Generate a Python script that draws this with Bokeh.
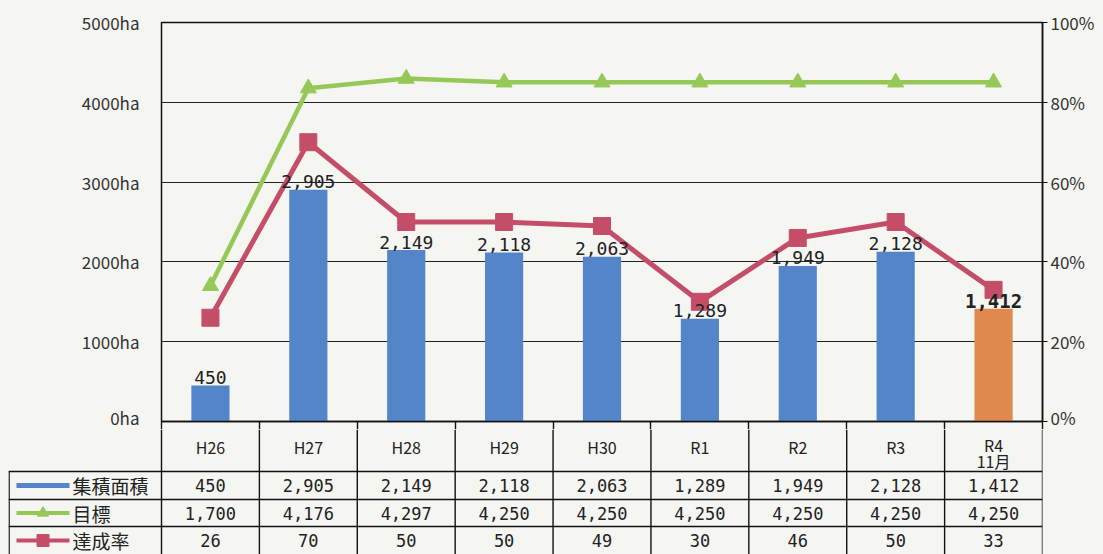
from bokeh.plotting import figure
from bokeh.models import (Range1d, LinearAxis, FixedTicker, PrintfTickFormatter,
                          ColumnDataSource, CustomJSTickFormatter)
from bokeh.core.properties import value
from bokeh.embed import file_html
from bokeh.resources import INLINE
import numpy as np

# ---- data ----
categories = ["H26", "H27", "H28", "H29", "H30", "R1", "R2", "R3", "R4\n11月"]
area = [450, 2905, 2149, 2118, 2063, 1289, 1949, 2128, 1412]      # 集積面積 (ha)
target = [1700, 4176, 4297, 4250, 4250, 4250, 4250, 4250, 4250]   # 目標 (ha)
rate = [26, 70, 50, 50, 49, 30, 46, 50, 33]                       # 達成率 (%)
series_names = ["集積面積", "目標", "達成率"]
left_ticks = [0, 1000, 2000, 3000, 4000, 5000]
right_ticks = [0, 20, 40, 60, 80, 100]

# ---- style ----
BG = "#f5f5f2"
BLUE = "#5585c9"
ORANGE = "#e0894f"
GREEN = "#96c858"
RED = "#c44e68"
INK = "#222222"
LINE = "#111111"
JP = value("Noto Sans CJK JP")
MONO = value("DejaVu Sans Mono")

n = len(categories)
xs = np.arange(n) + 0.5
bar_colors = [BLUE] * (n - 1) + [ORANGE]

W = 1103
TOP_H = 429
p = figure(width=W, height=TOP_H, x_range=Range1d(0, n), y_range=Range1d(0, 5000),
           output_backend="svg", toolbar_location=None,
           min_border_left=161, min_border_right=61, min_border_top=22, min_border_bottom=TOP_H - 421,
           background_fill_color=BG, border_fill_color=BG)
p.extra_y_ranges = {"pct": Range1d(0, 100)}
p.xgrid.visible = False
p.outline_line_color = LINE
p.outline_line_width = 1.5
p.ygrid.grid_line_color = "#222222"
p.ygrid.grid_line_width = 1.2

# category boundaries continue down into the table as x-axis ticks
p.xaxis.ticker = FixedTicker(ticks=list(range(n + 1)))
p.xaxis.formatter = CustomJSTickFormatter(code="return ''")
p.xaxis.axis_line_color = LINE
p.xaxis.axis_line_width = 1.5
p.xaxis.major_tick_line_color = LINE
p.xaxis.major_tick_line_width = 1.4
p.xaxis.major_tick_in = 0
p.xaxis.major_tick_out = TOP_H - 421
p.xaxis.minor_tick_line_color = None
p.xaxis.major_label_standoff = 0

p.yaxis.ticker = FixedTicker(ticks=left_ticks)
p.yaxis.formatter = PrintfTickFormatter(format="%dha")
p.yaxis.axis_line_color = None
p.yaxis.major_tick_line_color = None
p.yaxis.minor_tick_line_color = None
p.yaxis.major_label_standoff = 16
p.yaxis.major_label_text_font = "Noto Sans CJK JP"
p.yaxis.major_label_text_font_size = "17px"
p.yaxis.major_label_text_color = "#333333"

ra = LinearAxis(y_range_name="pct", ticker=FixedTicker(ticks=right_ticks),
                formatter=PrintfTickFormatter(format="%d%%"))
ra.axis_line_color = LINE
ra.axis_line_width = 1.5
ra.major_tick_line_color = LINE
ra.major_tick_out = 5
ra.major_tick_in = 0
ra.minor_tick_line_color = None
ra.major_label_standoff = 3
ra.major_label_text_font = "Noto Sans CJK JP"
ra.major_label_text_font_size = "17px"
ra.major_label_text_color = "#333333"
p.add_layout(ra, "right")

src = ColumnDataSource(dict(x=xs, area=area, target=target, rate=rate, color=bar_colors))
p.vbar(x="x", top="area", width=0.39, fill_color="color", line_color=None, source=src)
p.line("x", "target", line_color=GREEN, line_width=4.5, source=src)
p.scatter("x", "target", marker="triangle", size=16, fill_color=GREEN, line_color=GREEN, source=src)
p.line("x", "rate", line_color=RED, line_width=5, y_range_name="pct", source=src)
p.scatter("x", "rate", marker="square", size=17, fill_color=RED, line_color=RED,
          y_range_name="pct", source=src)

normal = ColumnDataSource(dict(x=xs[:-1], y=area[:-1], t=[f"{v:,}" for v in area[:-1]]))
bold = ColumnDataSource(dict(x=xs[-1:], y=area[-1:], t=[f"{v:,}" for v in area[-1:]]))
p.text("x", "y", text="t", source=normal, text_align="center", text_baseline="middle",
       y_offset=-8, text_font=MONO, text_font_size="18px", text_color=INK)
p.text("x", "y", text="t", source=bold, text_align="center", text_baseline="middle",
       y_offset=-8, text_font=MONO, text_font_size="19px", text_font_style="bold",
       text_color=INK)

# ---- data table below ----
colw = 881 / n
legL = -153 / colw
TH = 554 - TOP_H
rows = [0, 471 - TOP_H, 499 - TOP_H, 526 - TOP_H, TH]  # row boundaries (px from top of table)

t = figure(width=W, height=TH, x_range=Range1d(legL, n), y_range=Range1d(TH, 0),
           output_backend="svg", toolbar_location=None,
           min_border_left=8, min_border_right=61, min_border_top=0, min_border_bottom=0,
           background_fill_color=BG, border_fill_color=BG)
t.axis.visible = False
t.grid.visible = False
t.outline_line_color = None

vx = list(range(n + 1))
t.segment(x0=vx, y0=[0] * len(vx), x1=vx, y1=[TH] * len(vx), line_color=LINE, line_width=1.4)
t.segment(x0=[legL + 0.006], y0=[rows[1]], x1=[legL + 0.006], y1=[TH], line_color=LINE, line_width=1.4)
hy = rows[1:4]
t.segment(x0=[legL] * len(hy), y0=hy, x1=[n] * len(hy), y1=hy, line_color=LINE, line_width=1.4)

# header row: one- or two-line category labels
first_lines = [c.split("\n")[0] for c in categories]
first_y = [(444 if "\n" in c else 446) - TOP_H for c in categories]
t.text(x=list(xs), y=first_y, text=first_lines, text_align="center",
       text_baseline="middle", text_font=JP, text_font_size="16px", text_color=INK)
second_x = [x for x, c in zip(xs, categories) if "\n" in c]
second_lines = [c.split("\n")[1] for c in categories if "\n" in c]
t.text(x=second_x, y=[460 - TOP_H] * len(second_x), text=second_lines, text_align="center",
       text_baseline="middle", text_font=JP, text_font_size="16px", text_color=INK)

row_vals = [[f"{v:,}" for v in area], [f"{v:,}" for v in target], [str(v) for v in rate]]
ky = [(rows[i + 1] + rows[i + 2]) / 2 for i in range(3)]
for i, vals in enumerate(row_vals):
    t.text(x=list(xs), y=[ky[i]] * n, text=vals, text_align="center", text_baseline="middle",
           text_font=MONO, text_font_size="17px", text_color=INK)

kx0 = (16 - 161) / colw
kx1 = (69 - 161) / colw
kxm = (kx0 + kx1) / 2
t.segment(x0=[kx0], y0=[ky[0]], x1=[kx1], y1=[ky[0]], line_color=BLUE, line_width=5)
t.segment(x0=[kx0], y0=[ky[1]], x1=[kx1], y1=[ky[1]], line_color=GREEN, line_width=4)
t.scatter(x=[kxm], y=[ky[1]], marker="triangle", size=11, fill_color=GREEN, line_color=GREEN)
t.segment(x0=[kx0], y0=[ky[2]], x1=[kx1], y1=[ky[2]], line_color=RED, line_width=4)
t.scatter(x=[kxm], y=[ky[2]], marker="square", size=12, fill_color=RED, line_color=RED)
t.text(x=[(72 - 161) / colw] * 3, y=ky, text=series_names, text_align="left",
       text_baseline="middle", text_font=JP, text_font_size="19px", text_color=INK)

html = file_html([p, t], INLINE)
html = html.replace("</head>", "<style>html,body{background:%s}</style></head>" % BG, 1)
open("out.html", "w").write(html)
